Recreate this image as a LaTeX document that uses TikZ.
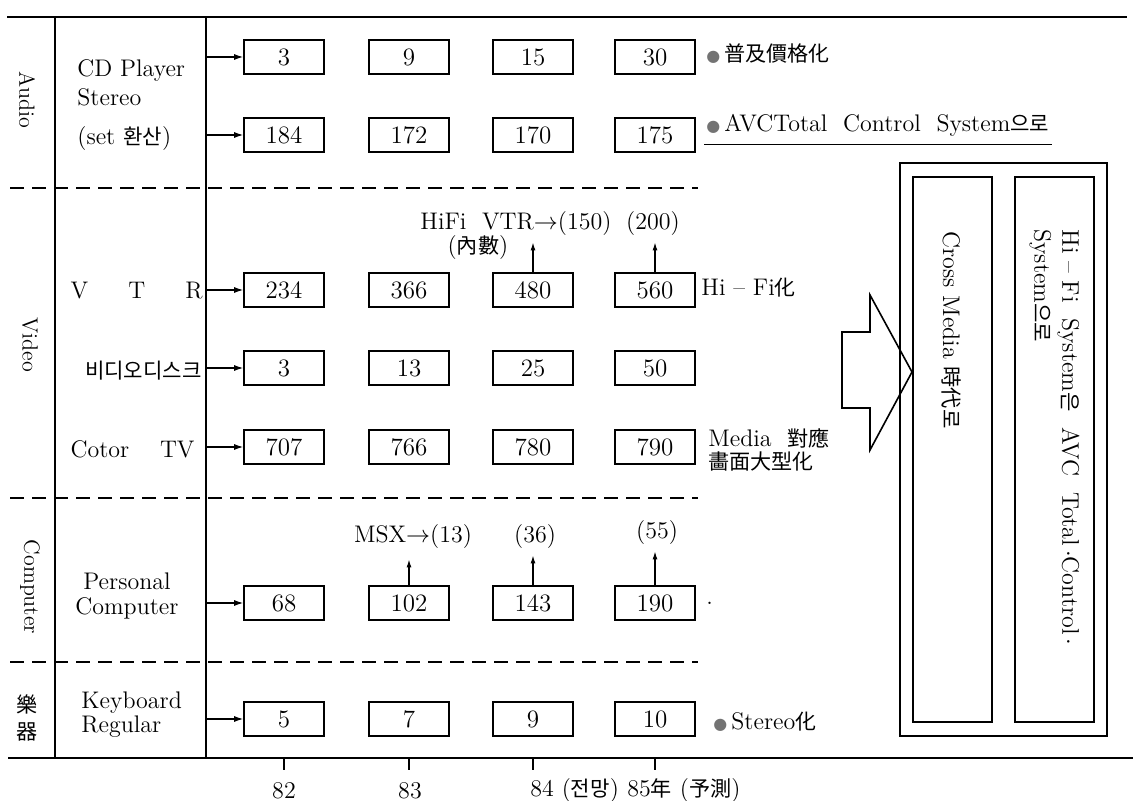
\documentclass[tikz,border=0pt]{standalone}
\usepackage{fontspec}
\usetikzlibrary{arrows.meta,positioning}
\newfontfamily\kr{Noto Sans CJK KR}[Scale=0.88]
\newfontfamily\sym{DejaVu Sans}
\newcommand{\bul}{{\sym\fontsize{8}{8}\selectfont\textcolor{black!55}{●}}}

\begin{document}
\begin{tikzpicture}[x=0.5pt,y=-0.5pt,
  box/.style={draw, line width=0.8pt, minimum width=40pt, minimum height=17pt, inner sep=0pt, font=\fontsize{12.5}{14}\selectfont},
  feed/.style={-{Latex[length=4.5pt,width=3pt]}, line width=0.6pt},
  rise/.style={-{Latex[length=4pt,width=2.5pt]}, line width=0.6pt, shorten >=2pt},
  item/.style={inner sep=0pt, font=\fontsize{12}{14.5}\selectfont},
  note/.style={anchor=west, inner sep=1pt, font=\fontsize{12}{13}\selectfont},
  cat/.style={rotate=-90, inner sep=0pt, font=\fontsize{11}{13}\selectfont},
  vtxt/.style={rotate=-90, inner sep=0pt, font=\fontsize{12}{14}\selectfont},
  sep/.style={line width=0.7pt, dash pattern=on 7pt off 4pt}]
  \useasboundingbox (0,0) rectangle (1133,801);
  % frame of the table
  \coordinate (vl) at (55,17);
  \coordinate (vr) at (206,17);
  \draw[line width=1pt] (7,17) -- (1127,17);
  \draw[line width=1pt] (8,758) -- (1133,758);
  \draw[line width=0.9pt] (vl) -- (vl |- 0,758);
  \draw[line width=0.9pt] (vr) -- (vr |- 0,758);
  \foreach \y in {188,498,662} \draw[sep] (10,\y) -- (698,\y);
  % categories
  \node[cat] (audio) at (27,100) {Audio};
  \node[cat] (video) at (30,345) {Video};
  \node[cat] (comp) at (30,587) {Computer};
  \node[item, align=center, font=\fontsize{12}{13.5}\selectfont] (gakki) at (27,718) {{\kr 樂}\\{\kr 器}};
  % items
  \node[item, anchor=west, align=left] (cd) at (77,105) {CD Player\\Stereo\\[5pt](set {\kr 환산})};
  \node[item, text width=66pt, anchor=east] (vtr) at (203,291) {V\hfill T\hfill R};
  \node[item, anchor=east] (disc) at (202,371) {\kr 비디오디스크};
  \node[item, text width=62pt, anchor=east] (ctv) at (195,449) {Cotor\hfill TV};
  \node[item, align=center, font=\fontsize{12}{12.5}\selectfont] (pc) at (127,596) {Personal\\Computer};
  \node[item, anchor=west, align=left, font=\fontsize{12}{12}\selectfont] (kb) at (81,715) {Keyboard\\Regular};
  % yearly figures, 82 to 85
  \foreach \r/\y/\a/\b/\c/\d in {1/57/3/9/15/30, 2/135/184/172/170/175, 3/290/234/366/480/560,
      4/368/3/13/25/50, 5/447/707/766/780/790, 6/603/68/102/143/190, 7/719/5/7/9/10}{
    \node[box] (b\r-1) at (284,\y) {\a};
    \node[box] (b\r-2) at (409,\y) {\b};
    \node[box] (b\r-3) at (533,\y) {\c};
    \node[box] (b\r-4) at (655,\y) {\d};
    \draw[feed] (b\r-1.west -| vr) -- (b\r-1.west);
  }
  % remarks to the right
  \node[note] (n1) at (704,54) {\bul\,{\kr 普及價格化}};
  \node[note] (n2) at (704,125) {\bul\,AVCTotal\ \ Control\ \ System{\kr 으로}};
  \draw[line width=0.6pt] ([yshift=-3pt]n2.south west) -- ([yshift=-3pt]n2.south east);
  \node[note] (n3) at (699,288) {Hi -- Fi{\kr 化}};
  \node[note, align=left, font=\fontsize{12}{11.5}\selectfont] (n4) at (706,450) {Media\ \ {\kr 對應}\\{\kr 畵面大型化}};
  \node[note] (n5) at (704,603) {.};
  \node[note] (n6) at (711,722) {\bul\,Stereo{\kr 化}};
  % inner counts
  \node[note, anchor=center] (hifi) at (516,224) {HiFi\ \ VTR$\rightarrow$(150)};
  \node[note, anchor=center] (naesu) at (478,248) {({\kr 內數})};
  \node[note, anchor=center] (h200) at (653,224) {(200)};
  \draw[rise] (b3-3.north) -- (b3-3.north |- hifi.south);
  \draw[rise] (b3-4.north) -- (b3-4.north |- h200.south);
  \node[note, anchor=center] (msx) at (413,537) {MSX$\rightarrow$(13)};
  \node[note, anchor=center] (p36) at (535,537) {(36)};
  \node[note, anchor=center] (p55) at (657,533) {(55)};
  \draw[rise, shorten >=4pt] (b6-2.north) -- (b6-2.north |- msx.south);
  \draw[rise] (b6-3.north) -- (b6-3.north |- p36.south);
  \draw[rise] (b6-4.north) -- (b6-4.north |- p55.south);
  % year axis
  \foreach \x in {284,409,533,655} \draw[line width=0.6pt] (\x,758) -- (\x,770);
  \node[note, anchor=center] (y82) at (284,791) {82};
  \node[note, anchor=center] (y83) at (410,791) {83};
  \node[note] (y84) at (528,791) {84 ({\kr 전망})};
  \node[note] (y85) at (625,791) {85{\kr 年} ({\kr 予測})};
  % outlook on the right
  \draw[line width=0.8pt] (900,163) rectangle (1107,736);
  \draw[line width=0.8pt] (913,177) rectangle (992,722);
  \draw[line width=0.8pt] (1015,177) rectangle (1094,722);
  \node[vtxt] (cross) at (951,330) {Cross Media {\kr 時代로}};
  \node[vtxt, align=left, anchor=north west] (hifisys) at (1080,229)
    {Hi -- Fi\ \ System{\kr 은}\ \ AVC\ \ Total\,$\cdot$Control\,$\cdot$\\System{\kr 으로}};
  \draw[line width=0.8pt] (842,332) -- (870,332) -- (870,295) -- (912,372)
    -- (870,450) -- (870,408) -- (842,408) -- cycle;
\end{tikzpicture}
\end{document}
